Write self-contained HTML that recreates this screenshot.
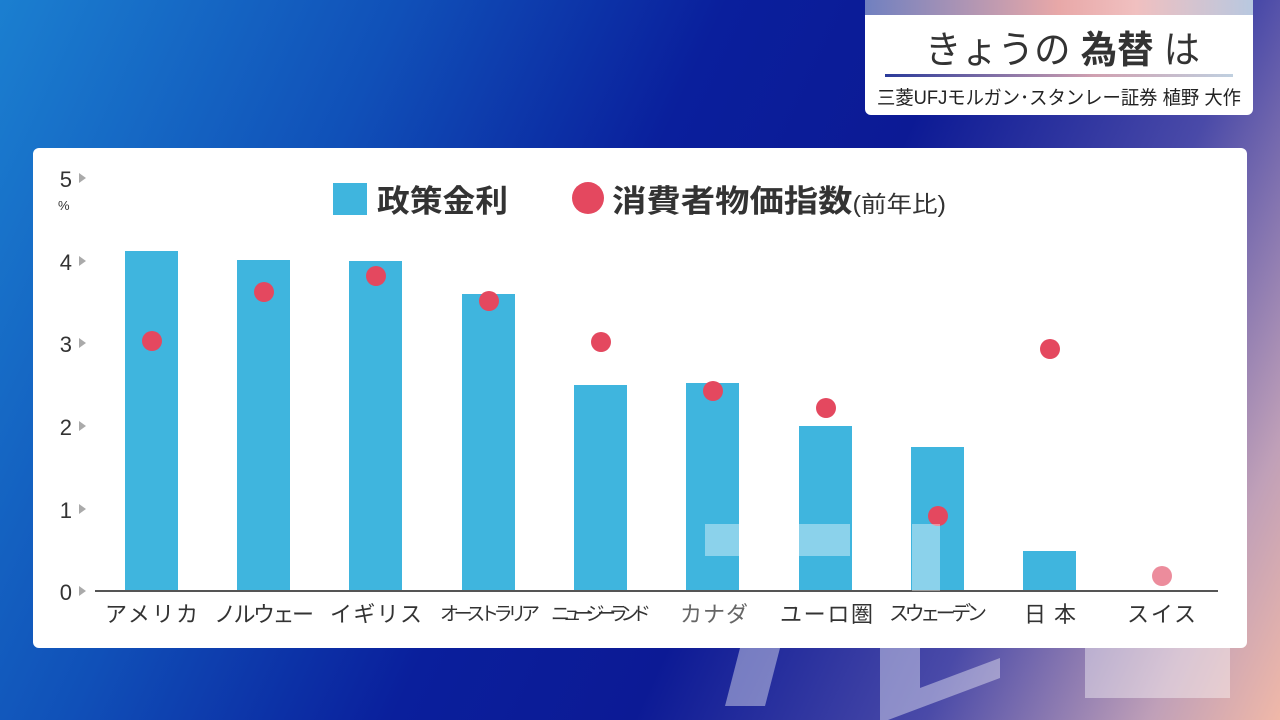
<!DOCTYPE html>
<html><head><meta charset="utf-8"><style>
body{margin:0;width:1280px;height:720px;overflow:hidden;font-family:"Liberation Sans","Noto Sans CJK JP",sans-serif;}
.bg{position:absolute;inset:0;background:linear-gradient(115deg,#1b7fd0 0%,#1050b8 25%,#0a1f9c 45%,#0c1a95 60%,#4a4aa8 78%,#c0a0b8 92%,#f0b8a8 100%);}
.title{position:absolute;left:865px;top:0;width:388px;height:115px;border-radius:0 0 6px 6px;overflow:hidden;background:#fff;}
.title .strip{height:15px;background:linear-gradient(90deg,#7080c0,#e8a8a8 50%,#f0c0c0 70%,#b8c8e0);}
.panel{position:absolute;left:33px;top:148px;width:1214px;height:500px;background:#fff;border-radius:6px;}
</style></head><body>
<div class="bg"></div>
<div class="title"><div class="strip"></div>
<div style="position:absolute;left:20px;right:20px;top:74px;height:3px;background:linear-gradient(90deg,#2a3a9a,#d0a0b0 60%,#c0d0e0);"></div>
</div>
<div class="panel"></div>
<svg width="1280" height="720" style="position:absolute;left:0;top:0" font-family="Liberation Sans, Noto Sans CJK JP, sans-serif">
<text x="925" y="63" font-size="38" fill="#333" textLength="275" lengthAdjust="spacingAndGlyphs">きょうの <tspan font-weight="bold">為替</tspan> は</text>
<text x="877" y="104" font-size="19" fill="#222" textLength="364" lengthAdjust="spacingAndGlyphs">三菱UFJモルガン･スタンレー証券 植野 大作</text>
<g fill="#333" font-size="22" text-anchor="end">
<text x="72" y="187">5</text><text x="72" y="270">4</text><text x="72" y="352">3</text><text x="72" y="435">2</text><text x="72" y="518">1</text><text x="72" y="600">0</text>
</g>
<text x="58" y="210" font-size="13" fill="#333">%</text>
<g fill="#aaa">
<path d="M79 173l7 5-7 5z"/><path d="M79 256l7 5-7 5z"/><path d="M79 338l7 5-7 5z"/><path d="M79 421l7 5-7 5z"/><path d="M79 504l7 5-7 5z"/><path d="M79 586l7 5-7 5z"/>
</g>
<rect x="333" y="183" width="34" height="32" fill="#3fb5de"/>
<text x="377" y="212" font-size="31" font-weight="bold" fill="#333" textLength="131" lengthAdjust="spacingAndGlyphs">政策金利</text>
<circle cx="588" cy="198" r="16" fill="#e4485f"/>
<text x="612" y="212" font-size="31" font-weight="bold" fill="#333" textLength="334" lengthAdjust="spacingAndGlyphs">消費者物価指数<tspan font-size="23" font-weight="normal">(前年比)</tspan></text>
<g fill="#3fb5de">
<rect x="125" y="251" width="53" height="340"/><rect x="237" y="260" width="53" height="331"/><rect x="349" y="261" width="53" height="330"/><rect x="462" y="294" width="53" height="297"/><rect x="574" y="385" width="53" height="206"/><rect x="686" y="383" width="53" height="208"/><rect x="799" y="426" width="53" height="165"/><rect x="911" y="447" width="53" height="144"/><rect x="1023" y="551" width="53" height="40"/>
</g>
<line x1="95" y1="591" x2="1218" y2="591" stroke="#555" stroke-width="2"/>
<g fill="#e4485f">
<circle cx="152" cy="341" r="10"/><circle cx="264" cy="292" r="10"/><circle cx="376" cy="276" r="10"/><circle cx="489" cy="301" r="10"/><circle cx="601" cy="342" r="10"/><circle cx="713" cy="391" r="10"/><circle cx="826" cy="408" r="10"/><circle cx="938" cy="516" r="10"/><circle cx="1050" cy="349" r="10"/><circle cx="1162" cy="576" r="10" fill="#ec8c9c"/>
</g>
<g fill="rgba(255,255,255,0.4)">
<rect x="705" y="524" width="145" height="32"/><rect x="912" y="524" width="28" height="67"/><path d="M740 648h40l-15 58h-40z"/><path d="M880 648h40v40l80-30v20l-120 45z"/><rect x="1085" y="648" width="145" height="50"/>
</g>
<g fill="#333" font-size="22" lengthAdjust="spacingAndGlyphs">
<text x="105" y="622" textLength="93">アメリカ</text>
<text x="214" y="622" textLength="100">ノルウェー</text>
<text x="330" y="622" textLength="92">イギリス</text>
<text x="440" y="620" font-size="19" textLength="100">オーストラリア</text>
<text x="551" y="620" font-size="19" textLength="100">ニュージーランド</text>
<text x="680" y="622" fill="#666" textLength="68">カナダ</text>
<text x="780" y="622" textLength="93">ユーロ圏</text>
<text x="889" y="620" font-size="20" textLength="98">スウェーデン</text>
<text x="1024" y="622" textLength="52">日 本</text>
<text x="1127" y="622" textLength="69">スイス</text>
</g>
</svg>
</body></html>
